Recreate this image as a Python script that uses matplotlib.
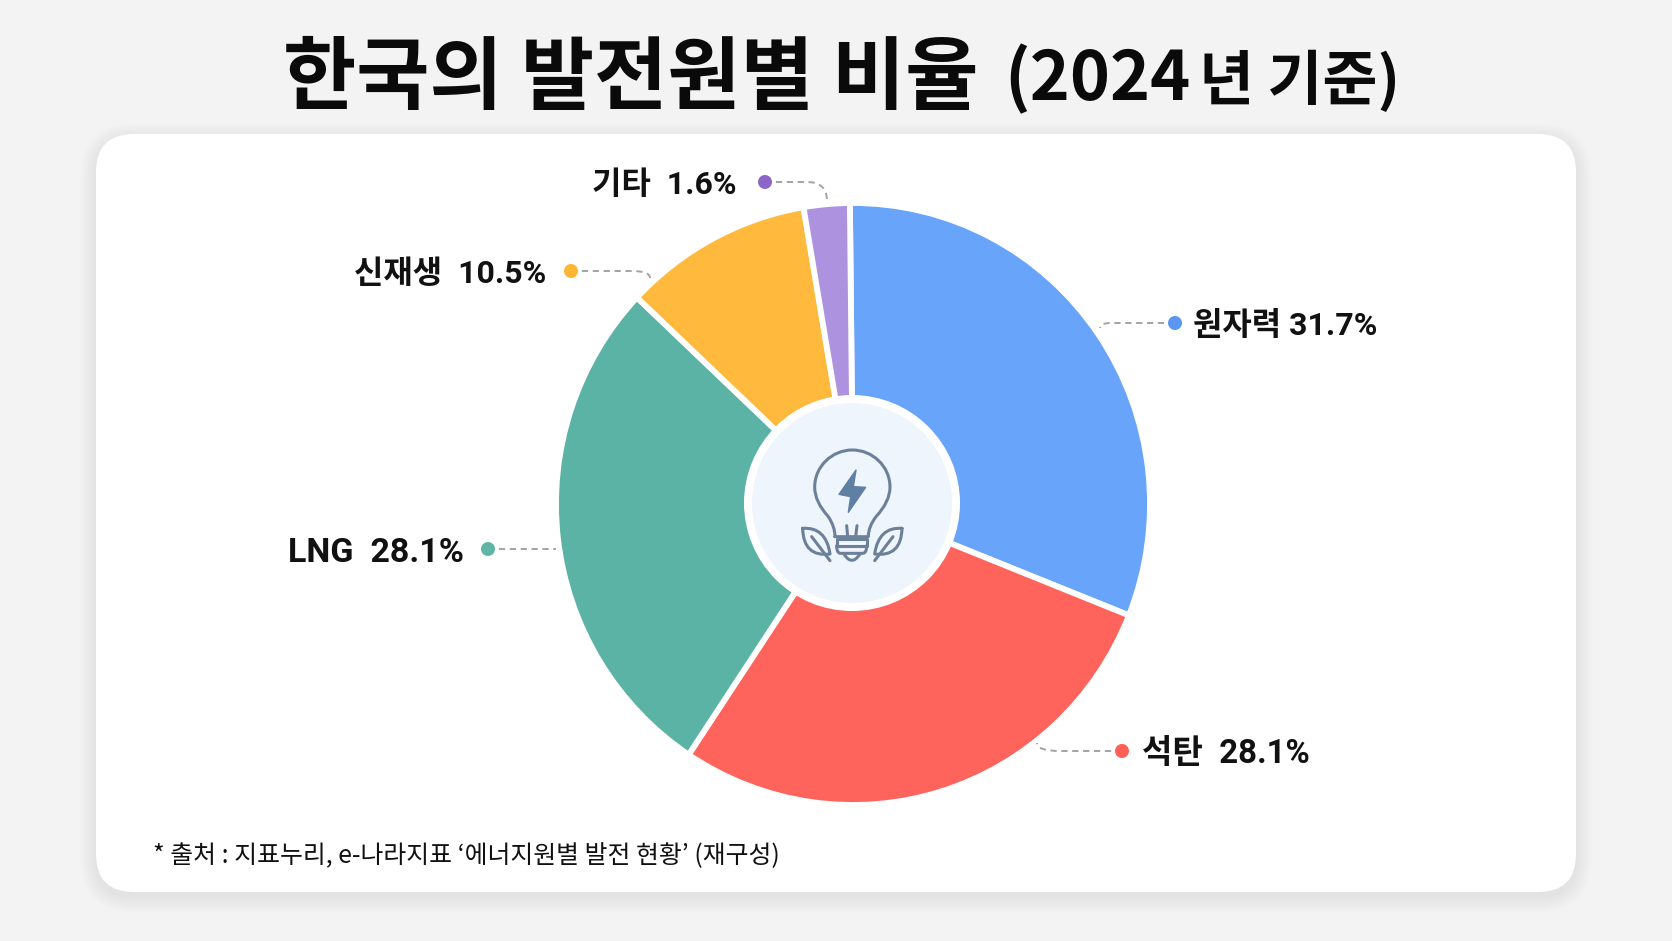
import matplotlib
matplotlib.use('Agg')
import matplotlib.pyplot as plt
from matplotlib.patches import Circle, FancyBboxPatch, PathPatch, Polygon
from matplotlib.path import Path
from matplotlib.transforms import Affine2D

# printed labels
categories = ['원자력', '석탄', 'LNG', '신재생', '기타']
label_pct = [31.7, 28.1, 28.1, 10.5, 1.6]
# slice sizes as drawn in the picture (not quite the printed ones)
drawn_share = [31.2, 28.3, 27.7, 10.3, 2.5]

slice_colors = ['#68A4FA', '#FF645C', '#5BB3A5', '#FFB93C', '#AD93DF']
dot_colors = ['#5B96F0', '#FF5F57', '#5FB5A6', '#FFB733', '#8C66C6']

W, H = 1672, 941
plt.rcParams['font.family'] = ['Noto Sans CJK KR', 'DejaVu Sans']
LABEL_FONT = ['Roboto', 'Noto Sans CJK KR']
INK = '#111111'


def Y(y):
    # picture coordinates run downwards
    return H - y


fig = plt.figure(figsize=(W / 100, H / 100), dpi=100, facecolor='#F3F3F3')
ax = fig.add_axes([0, 0, 1, 1])

# the pie in the picture is a touch taller than wide
cx, cy, rx, ry = 853, 504, 297, 301
wedges, _ = ax.pie(drawn_share, colors=slice_colors, startangle=90.6, counterclock=False,
                   center=(cx, Y(cy)), radius=rx,
                   wedgeprops={'edgecolor': 'white', 'linewidth': 4.2})
ax.set_xlim(0, W)
ax.set_ylim(0, H)
ax.set_axis_off()
stretch = Affine2D().translate(-cx, -Y(cy)).scale(1, ry / rx).translate(cx, Y(cy))
for w in wedges:
    w.set_transform(stretch + ax.transData)

# ---- card and its soft shadow, under the pie
cx0, cy0, cx1, cy1 = 96, 134, 1576, 892
for i in range(16, 0, -1):
    ax.add_patch(FancyBboxPatch(
        (cx0 - i, Y(cy1 + 5) - i), cx1 - cx0 + 2 * i, cy1 - cy0 + 2 * i,
        boxstyle='round,pad=0,rounding_size=%d' % (38 + i),
        fc='#000000', ec='none', alpha=0.0028, zorder=0.1))
ax.add_patch(FancyBboxPatch((cx0, Y(cy1)), cx1 - cx0, cy1 - cy0,
                            boxstyle='round,pad=0,rounding_size=38',
                            fc='white', ec='none', zorder=0.2))

# ---- centre hole
ax.add_patch(Circle((cx - 1, Y(503)), 108, fc='white', ec='none', zorder=3))
ax.add_patch(Circle((cx - 1, Y(503)), 100, fc='#EFF5FC', ec='none', zorder=3.1))


def ic(x, y):
    return (720 + x / 3, Y(380 + y / 3))


def stroke(points, codes=None):
    pts = [ic(*p) for p in points]
    if codes is None:
        codes = [Path.MOVETO] + [Path.LINETO] * (len(pts) - 1)
    ax.add_patch(PathPatch(Path(pts, codes), fc='none', ec='#6C8199', lw=2.2,
                           capstyle='round', joinstyle='round', zorder=4))


C3, C4, L, M = Path.CURVE3, Path.CURVE4, Path.LINETO, Path.MOVETO
stroke([(345, 470), (345, 440), (325, 410), (284, 365), (284, 322), (284, 258),
        (337, 210), (397, 210), (457, 210), (510, 258), (510, 322), (510, 365),
        (468, 410), (445, 440), (445, 470), (345, 470)],
       [M, C3, C3, C3, C3, C4, C4, C4, C4, C4, C4, C3, C3, C3, C3, L])
stroke([(380, 437), (383, 470)])
stroke([(411, 437), (407, 470)])
stroke([(362, 478), (350, 478), (350, 497), (440, 497), (440, 478), (362, 478)])
stroke([(350, 497), (350, 520), (362, 520), (428, 520), (440, 520), (440, 497)],
       [M, C3, C3, L, C3, C3])
stroke([(372, 522), (395, 560), (420, 522)], [M, C3, C3])
ax.add_patch(Polygon([ic(408, 270), ic(357, 343), ic(392, 350), ic(385, 397),
                      ic(437, 322), ic(400, 320)],
                     fc='#5F7FA3', ec='#5F7FA3', lw=1, joinstyle='round', zorder=4))
# left leaf, then its mirror image
for s in (0, 1):
    def m(x):
        return 794 - x if s else x
    stroke([(m(248), 445), (m(318), 440), (m(330), 522),
            (m(250), 532), (m(248), 445)], [M, C3, C3, C3, C3])
    stroke([(m(275), 470), (m(330), 542)])


# ---- labels: dot, dashed leader, text
dot_xy = [(1175, 323), (1122, 751), (488, 549), (571, 271), (765, 182)]
leader_mid = [(1103, 323), (1052, 751), (556, 549), (640, 271), (815, 182)]
leader_end = [(1100, 328), (1037, 743), (556, 549), (650, 278), (827, 201)]
text_x = [1193, 1142, 464, 546, 736]
text_ha = ['left', 'left', 'right', 'right', 'right']
text_size = [23, 23.8, 24.5, 23, 23]
text_gap = [' ', '  ', '  ', '  ', '  ']

for i, name in enumerate(categories):
    dx, dy = dot_xy[i]
    mx, my = leader_mid[i]
    ex, ey = leader_end[i]
    pts = [(dx, Y(dy)), (mx + (8 if mx < dx else -8), Y(my)),
           (ex if abs(ex - mx) < 16 else mx, Y(my)), (ex, Y(ey))]
    ax.add_patch(PathPatch(Path(pts, [M, L, C3, C3]), fc='none', ec='#A3A3A3',
                           lw=1.4, ls=(0, (3.2, 2.4)), zorder=2))
    ax.add_patch(Circle((dx, Y(dy)), 7, fc=dot_colors[i], ec='none', zorder=5))
    ax.text(text_x[i], Y(dy), '%s%s%.1f%%' % (name, text_gap[i], label_pct[i]),
            fontsize=text_size[i], family=LABEL_FONT, fontweight='bold', color=INK,
            ha=text_ha[i], va='center_baseline', zorder=5)

# ---- title in pieces, the year part is set smaller
ax.text(283, Y(103), '한국의 발전원별 비율', fontsize=57.3, fontweight='bold',
        color='#0A0A0A', ha='left', va='baseline')
ax.text(1004, Y(100), '(2024', fontsize=49, fontweight='bold', color='#0A0A0A',
        ha='left', va='baseline')
ax.text(1400, Y(100), '년 기준)', fontsize=43, fontweight='bold', color='#0A0A0A',
        ha='right', va='baseline')

ax.text(153, Y(853), '* 출처 : 지표누리, e-나라지표 ‘에너지원별 발전 현황’ (재구성)',
        fontsize=17.9, color=INK, ha='left', va='center_baseline')

fig.savefig('out.png', dpi=100, facecolor=fig.get_facecolor())
